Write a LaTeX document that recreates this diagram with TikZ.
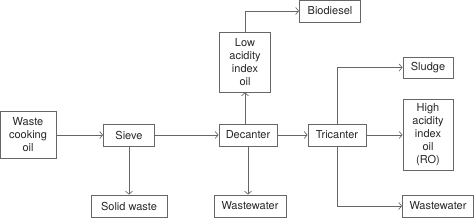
\documentclass[tikz,border=0pt]{standalone}
\usepackage{fontspec}
\setmainfont{TeX Gyre Heros}
\usetikzlibrary{arrows.meta}

\begin{document}
\begin{tikzpicture}[x=1pt,y=-1pt,
        stagebox/.style={draw=black!60, line width=0.8pt, align=center, inner sep=1pt,
            font=\fontsize{11}{13}\selectfont, text=black!85},
        flow/.style={draw=black!60, line width=0.7pt, -{Straight Barb[length=3pt,width=7pt]}}]
        \useasboundingbox (0,0) rectangle (474,217);

        % Input and first stage
        \node[stagebox, minimum width=56pt, minimum height=47pt] (wco) at (28,135) {Waste\\cooking\\oil};
        \node[stagebox, minimum width=51pt, minimum height=22pt] (sieve) at (129,135) {Sieve};
        \node[stagebox, minimum width=76pt, minimum height=22pt] (solid) at (129,206) {Solid waste};

        % Decanter stage
        \node[stagebox, minimum width=58pt, minimum height=22pt] (decanter) at (248,135) {Decanter};
        \node[stagebox, minimum width=51pt, minimum height=60pt] (lowoil) at (245,62) {Low\\acidity\\index\\oil};
        \node[stagebox, minimum width=61pt, minimum height=22pt] (biodiesel) at (330,11) {Biodiesel};
        \node[stagebox, minimum width=72pt, minimum height=22pt] (water1) at (250,206) {Wastewater};

        % Tricanter stage
        \node[stagebox, minimum width=58pt, minimum height=22pt] (tricanter) at (337,135) {Tricanter};
        \node[stagebox, minimum width=50pt, minimum height=21pt] (sludge) at (428,67.5) {Sludge};
        \node[stagebox, minimum width=50pt, minimum height=71pt] (highoil) at (428,134.5) {High\\acidity\\index\\oil\\(RO)};
        \node[stagebox, minimum width=71pt, minimum height=22pt] (water2) at (438,206) {Wastewater};

        % Connectors
        \draw[flow] (wco) -- (sieve);
        \draw[flow] (sieve) -- (decanter);
        \draw[flow] (sieve) -- (solid);
        \draw[flow] (decanter.north -| lowoil.south) -- (lowoil.south);
        \draw[flow] (decanter.south) -- (decanter.south |- water1.north);
        \draw[flow] (lowoil.north) |- (biodiesel.west);
        \draw[flow] (decanter) -- (tricanter);
        \draw[flow] (tricanter.north) |- (sludge.west);
        \draw[flow] (tricanter) -- (tricanter -| highoil.west);
        \draw[flow] (tricanter.south) |- (water2.west);

    \end{tikzpicture}
\end{document}
